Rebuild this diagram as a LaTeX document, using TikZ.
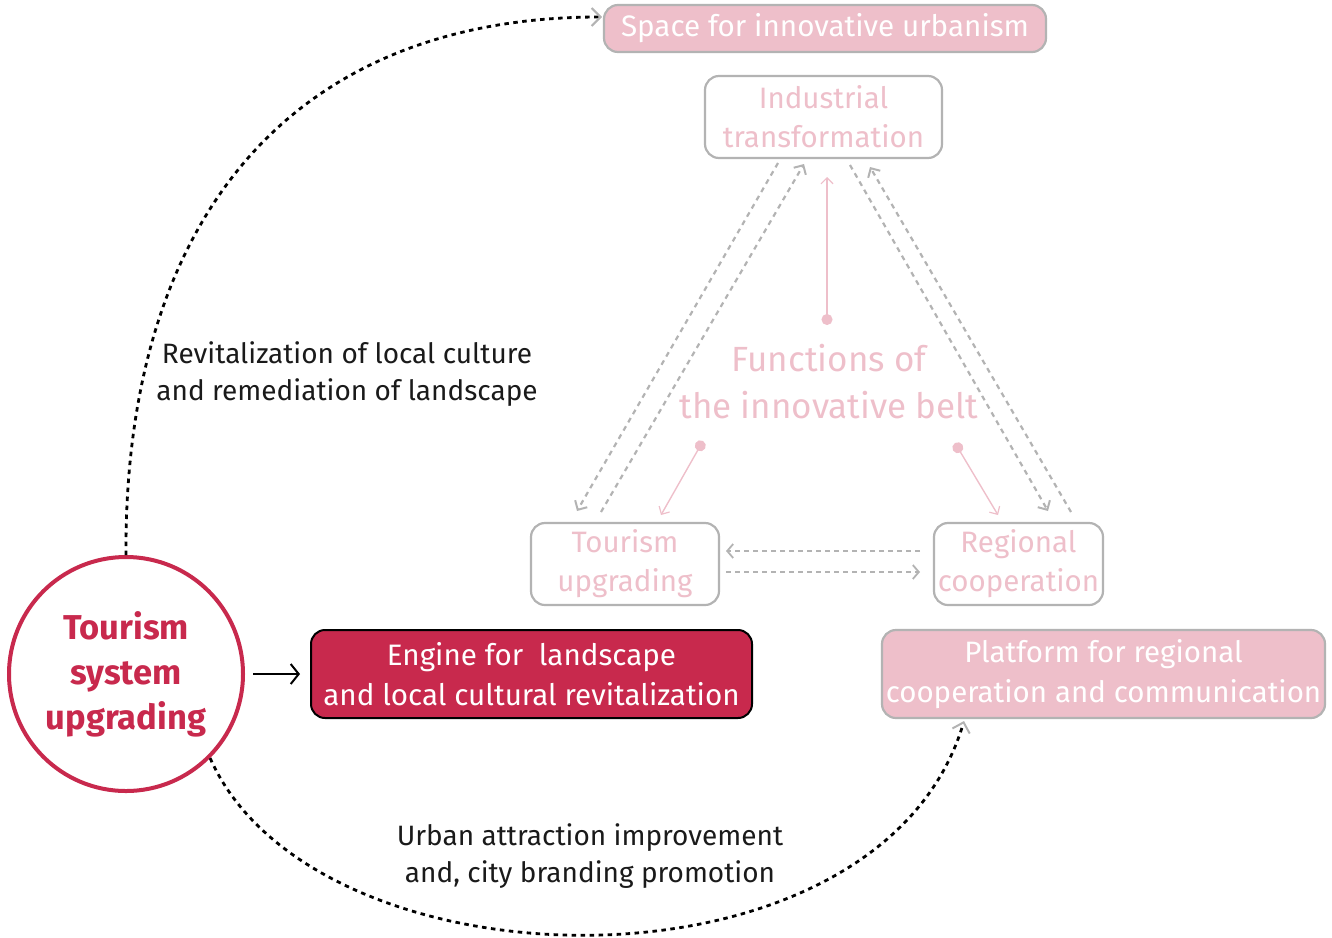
\documentclass[tikz,border=0pt]{standalone}
\usepackage{fontspec}
\setmainfont{Fira Sans}
\usetikzlibrary{arrows.meta,calc}
\definecolor{pinkf}{HTML}{EEBFCA}
\definecolor{grayb}{HTML}{B3B3B3}
\definecolor{crim}{HTML}{C8294D}
\definecolor{inkc}{HTML}{1A1A1A}
\tikzset{
  fs/.style 2 args={font=\fontsize{#1}{#2}\selectfont},
  pinkbox/.style={draw=grayb, line width=2.2pt, fill=pinkf, rounded corners=14pt, text=white, align=center, inner sep=0pt},
  whitebox/.style={draw=grayb, line width=2.2pt, fill=white, rounded corners=14pt, text=pinkf, align=center, inner sep=0pt},
  graydash/.style={draw=grayb, line width=2.2pt, dash pattern=on 5pt off 4.5pt, -{Straight Barb[length=7pt,width=14pt,line width=2pt]}},
  grayhdash/.style={draw=grayb, line width=1.6pt, dash pattern=on 5pt off 4pt, -{Straight Barb[length=6pt,width=14pt,line width=1.8pt]}},
  pinkline/.style={draw=pinkf, line width=1.4pt, {Circle[length=11pt]}-{Straight Barb[length=6pt,width=12pt,line width=1.2pt]}},
  blackdot/.style={draw=black, line width=2.8pt, dash pattern=on 4.5pt off 4.5pt, -{Straight Barb[length=9pt,width=18pt,line width=2pt,color=grayb]}},
  label/.style={text=inkc, align=center, inner sep=0pt},
}
\begin{document}
\begin{tikzpicture}[x=1pt,y=-1pt]
\useasboundingbox (0,0) rectangle (1332,937);
% boxes
\node[pinkbox, minimum width=442pt, minimum height=47pt, fs={29.6}{36}] (space) at (825,28.5) {Space for innovative urbanism};
\node[whitebox, minimum width=237pt, minimum height=82pt, fs={29.5}{39}] (ind) at (823.5,117) {Industrial\\transformation};
\node[whitebox, minimum width=188pt, minimum height=82pt, fs={29.5}{39}] (tour) at (625,564) {Tourism\\upgrading};
\node[whitebox, minimum width=169pt, minimum height=82pt, fs={29.5}{39}] (reg) at (1018.5,564) {Regional\\cooperation};
\node[text=pinkf, align=center, inner sep=0pt, fs={35}{47}] (func) at (829,382) {Functions of\\the innovative belt};
\node[draw=black, line width=2pt, fill=crim, rounded corners=14pt, text=white, align=center, inner sep=0pt, minimum width=441pt, minimum height=88pt, fs={29.6}{40}] (eng) at (531.5,674) {Engine for \ landscape\\and local cultural revitalization};
\node[pinkbox, minimum width=443pt, minimum height=88pt, fs={29.5}{40}] (plat) at (1103.5,674) {Platform for regional\\cooperation and communication};
\node[circle, draw=crim, line width=4pt, fill=white, minimum size=234pt, inner sep=0pt, text=crim, align=center, font=\bfseries\fontsize{34.5}{45}\selectfont] (circ) at (126,674) {Tourism\\system\\upgrading};
% labels
\node[label, fs={28}{37}] (lab1) at (347,374) {Revitalization of local culture\\and remediation of landscape};
\node[label, fs={28}{37}] (lab2) at (590,856) {Urban attraction improvement\\and, city branding promotion};
% pink pointers
\coordinate (p1s) at (827,325); \coordinate (p1e) at (827,177);
\coordinate (p2s) at (703,441); \coordinate (p2e) at (661,515);
\coordinate (p3s) at (955,443); \coordinate (p3e) at (998,515);
\draw[pinkline] (p1s) -- (p1e);
\draw[pinkline] (p2s) -- (p2e);
\draw[pinkline] (p3s) -- (p3e);
% gray dashed arrows
\coordinate (a1s) at (601,512); \coordinate (a1e) at (804,164);
\coordinate (a2s) at (778,163); \coordinate (a2e) at (577,511);
\coordinate (a3s) at (850,165); \coordinate (a3e) at (1048,511);
\coordinate (a4s) at (1071,512); \coordinate (a4e) at (870,167);
\draw[graydash] (a1s) -- (a1e);
\draw[graydash] (a2s) -- (a2e);
\draw[graydash] (a3s) -- (a3e);
\draw[graydash] (a4s) -- (a4e);
\coordinate (h1s) at (920,551); \coordinate (h1e) at (726,551);
\coordinate (h2s) at (726,572); \coordinate (h2e) at (920,572);
\draw[grayhdash] (h1s) -- (h1e);
\draw[grayhdash] (h2s) -- (h2e);
% black arrow
\coordinate (ce) at (253,674);
\coordinate (ee) at (300,674);
\draw[line width=2pt, -{Straight Barb[length=8pt,width=20pt,line width=2pt]}] (ce) -- (ee);
% dotted arcs
\coordinate (topend) at (602,17);
\coordinate (botend) at (964,721);
\draw[blackdot] (circ.north) .. controls (124,220) and (290,17) .. (topend);
\draw[blackdot] (circ.-45) .. controls (315,995) and (880,1005) .. (botend);
\end{tikzpicture}
\end{document}
